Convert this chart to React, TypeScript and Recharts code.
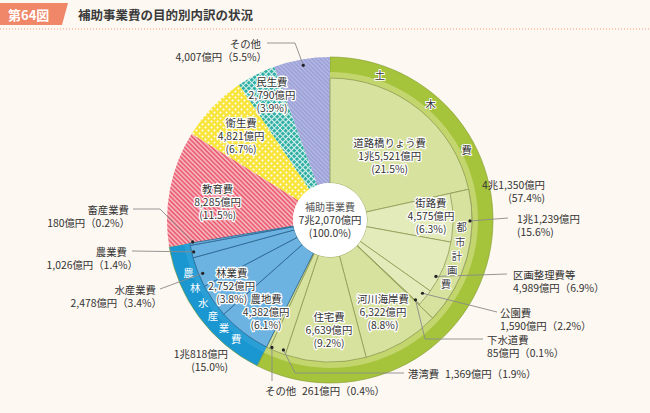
import React from 'react';
import { PieChart, Pie, Cell } from 'recharts';

// ---------- data (億円 / %) ----------
const categories = ['土木費', '農林水産業費', '教育費', '衛生費', '民生費', 'その他'];
const categoryValues = [41350, 10818, 8285, 4821, 2790, 4007];
const categoryPercents = [57.4, 15.0, 11.5, 6.7, 3.9, 5.5];

const civilItems = ['道路橋りょう費', '街路費', '区画整理費等', '公園費', '下水道費', '河川海岸費', '住宅費', '港湾費', 'その他'];
const civilValues = [15521, 4575, 4989, 1590, 85, 6322, 6639, 1369, 261];
const civilPercents = [21.5, 6.3, 6.9, 2.2, 0.1, 8.8, 9.2, 1.9, 0.4];

const cityPlanningName = '都市計画費';
const cityPlanningItems = ['街路費', '区画整理費等', '公園費', '下水道費'];
const cityPlanningValue = 11239;
const cityPlanningPercent = 15.6;

const agriItems = ['農地費', '林業費', '水産業費', '農業費', '畜産業費'];
const agriValues = [4382, 2752, 2478, 1026, 180];
const agriPercents = [6.1, 3.8, 3.4, 1.4, 0.2];

const totalName = '補助事業費';
const totalValue = 72070;
const totalPercent = 100.0;

// ---------- built tables ----------
type Entry = { id: string; name: string; value: number; pct: number; group: string; blank?: boolean };

const topData: Entry[] = categories.map((n, i) => ({ id: 'top:' + n, name: n, value: categoryValues[i], pct: categoryPercents[i], group: 'top' }));
const leafData: Entry[] = [
  ...civilItems.map((n, i) => ({ id: 'civil:' + n, name: n, value: civilValues[i], pct: civilPercents[i], group: cityPlanningItems.includes(n) ? 'city' : 'civil' })),
  ...agriItems.map((n, i) => ({ id: 'agri:' + n, name: n, value: agriValues[i], pct: agriPercents[i], group: 'agri' })),
  ...categories.slice(2).map((n, i) => ({ id: 'other:' + n, name: n, value: categoryValues[i + 2], pct: categoryPercents[i + 2], group: 'other', blank: true })),
];
const sumAll = categoryValues.reduce((a, b) => a + b, 0);
const cityData: Entry[] = [
  { id: 'pre', name: '', value: civilValues[0], pct: 0, group: 'blank', blank: true },
  { id: 'city:' + cityPlanningName, name: cityPlanningName, value: cityPlanningValue, pct: cityPlanningPercent, group: 'city' },
  { id: 'post', name: '', value: sumAll - civilValues[0] - cityPlanningValue, pct: 0, group: 'blank', blank: true },
];
const centerData: Entry[] = [{ id: 'center', name: totalName, value: totalValue, pct: totalPercent, group: 'center' }];

// ---------- styles ----------
const FONT = '"Noto Sans CJK JP", "Noto Sans", sans-serif';
const CX = 330;
const CY = 220;
const RAD = Math.PI / 180;
const TEXT = '#333333';
const LEADER = '#8a8a8a';
const FS = 10.4;

const topFill: Record<string, string> = {
  '土木費': '#a6c33c',
  '農林水産業費': '#1a97d1',
  '教育費': 'url(#patEdu)',
  '衛生費': 'url(#patHealth)',
  '民生費': 'url(#patWelfare)',
  'その他': 'url(#patOther)',
};
const bandFill: Record<string, string> = { '土木費': '#c3d56d', '農林水産業費': '#2a9fd6' };
const leafFill = (e: Entry) => {
  if (e.blank) return 'none';
  if (e.group === 'agri') return '#6cb3e1';
  if (e.group === 'city') return '#e3ebbb';
  return '#d7e29e';
};
const leafStroke = (e: Entry) => (e.blank ? 'none' : e.group === 'agri' ? '#2f6590' : '#8f9c57');

// ---------- label layout ----------
type Part = 'name' | 'value' | 'pct' | 'valuePct';
interface Line { x: number; y: number; anchor?: 'start' | 'middle' | 'end'; part: Part }
interface Lay {
  inside?: { r: number; da: number; dy?: number };
  dot?: { r: number; da: number };
  path?: [number, number][];
  lines?: Line[];
  arc?: { r: number; start: number; step: number; color: string; halo?: boolean };
}

const LAYOUT: Record<string, Lay> = {
  'civil:道路橋りょう費': { inside: { r: 88, da: 3.9 } },
  'civil:街路費': { inside: { r: 101, da: -1.3 } },
  'civil:区画整理費等': { dot: { r: 120, da: 5.2 }, path: [[507, 274]], lines: [{ x: 513, y: 274, part: 'name' }, { x: 513, y: 287, part: 'valuePct' }] },
  'civil:公園費': { dot: { r: 118, da: -0.9 }, path: [[497, 312]], lines: [{ x: 500, y: 312, part: 'name' }, { x: 500, y: 325, part: 'valuePct' }] },
  'civil:下水道費': { dot: { r: 117, da: -0.4 }, path: [[425, 339], [483, 339]], lines: [{ x: 487, y: 339, part: 'name' }, { x: 487, y: 352, part: 'valuePct' }] },
  'civil:河川海岸費': { inside: { r: 106, da: 0.6 } },
  'civil:住宅費': { inside: { r: 110, da: -1.3 } },
  'civil:港湾費': { dot: { r: 138, da: -2.1 }, path: [[295, 373], [404, 373]], lines: [{ x: 408, y: 373, part: 'name' }, { x: 445, y: 373, part: 'valuePct' }] },
  'civil:その他': { dot: { r: 140, da: -1.4 }, path: [[272, 381]], lines: [{ x: 265, y: 390, part: 'name' }, { x: 302, y: 390, part: 'valuePct' }] },
  'agri:農地費': { inside: { r: 112, da: -2.7 } },
  'agri:林業費': { inside: { r: 118, da: 1.1 } },
  'agri:水産業費': { dot: { r: 138, da: -1.1 }, path: [[160, 289]], lines: [{ x: 156, y: 289, anchor: 'end', part: 'name' }, { x: 162, y: 302, anchor: 'end', part: 'valuePct' }] },
  'agri:農業費': { dot: { r: 140, da: -0.3 }, path: [[132, 251]], lines: [{ x: 127, y: 251, anchor: 'end', part: 'name' }, { x: 138, y: 264, anchor: 'end', part: 'valuePct' }] },
  'agri:畜産業費': { dot: { r: 139, da: 0.8 }, path: [[160, 209], [133, 209]], lines: [{ x: 129, y: 209, anchor: 'end', part: 'name' }, { x: 130, y: 222, anchor: 'end', part: 'valuePct' }] },
  'top:土木費': { arc: { r: 154, start: -84.3, step: 21.8, color: '#333', halo: true }, lines: [{ x: 545, y: 184, anchor: 'end', part: 'value' }, { x: 545, y: 197, anchor: 'end', part: 'pct' }] },
  'top:農林水産業費': { arc: { r: 151, start: 16.0, step: -6.24, color: '#ffffff' }, lines: [{ x: 228, y: 353, anchor: 'end', part: 'value' }, { x: 228, y: 366, anchor: 'end', part: 'pct' }] },
  'top:教育費': { inside: { r: 114, da: -1.7 } },
  'top:衛生費': { inside: { r: 123, da: -0.3 } },
  'top:民生費': { inside: { r: 138, da: 2.1 } },
  'top:その他': { dot: { r: 157, da: 0.2 }, path: [[295, 43], [267, 43]], lines: [{ x: 261, y: 43, anchor: 'end', part: 'name' }, { x: 267, y: 56, anchor: 'end', part: 'valuePct' }] },
  'city:都市計画費': { arc: { r: 132, start: -12.6, step: 6.4, color: '#444', halo: true }, dot: { r: 140, da: -15.2 }, path: [[508, 218]], lines: [{ x: 517, y: 218, part: 'value' }, { x: 517, y: 231, part: 'pct' }] },
  'center': { inside: { r: 0, da: 0, dy: -1 } },
};

const fmtOku = (v: number) => {
  const cho = Math.floor(v / 10000);
  const rest = v % 10000;
  const restStr = rest.toLocaleString('en-US');
  return (cho ? `${cho}兆${restStr}` : restStr) + '億円';
};

const polar = (cx: number, cy: number, r: number, angle: number): [number, number] => [
  cx + r * Math.cos(-angle * RAD),
  cy + r * Math.sin(-angle * RAD),
];

const haloProps = { stroke: '#ffffff', strokeWidth: 2.6, strokeLinejoin: 'round' as const, paintOrder: 'stroke' as const };

function renderLabel(props: any) {
  const d: Entry = props.payload && props.payload.id ? props.payload : props;
  const lay = d && LAYOUT[d.id];
  if (!lay) return <g />;
  const cx = typeof props.cx === 'number' ? props.cx : CX;
  const cy = typeof props.cy === 'number' ? props.cy : CY;
  const mid = props.midAngle as number;
  const parts: Record<Part, string> = {
    name: d.name,
    value: fmtOku(d.value),
    pct: `(${d.pct.toFixed(1)}%)`,
    valuePct: `${fmtOku(d.value)}（${d.pct.toFixed(1)}%）`,
  };
  const els: React.ReactNode[] = [];
  if (lay.inside) {
    const [x, y0] = polar(cx, cy, lay.inside.r, mid - lay.inside.da);
    const y = y0 + (lay.inside.dy || 0);
    const seq: Part[] = ['name', 'value', 'pct'];
    seq.forEach((p, i) => {
      const isCenterName = d.id === 'center' && p === 'name';
      els.push(
        <text key={'in' + i} x={x} y={y + (i - 1) * 13} textAnchor="middle" dominantBaseline="central"
          fontFamily={FONT} fontSize={isCenterName ? 10 : FS} fill={isCenterName ? '#555' : TEXT}
          {...(d.id === 'center' ? {} : haloProps)}>
          {parts[p]}
        </text>
      );
    });
  }
  if (lay.arc) {
    const chars = Array.from(d.name);
    chars.forEach((ch, i) => {
      const [x, y] = polar(cx, cy, lay.arc!.r, mid - (lay.arc!.start + i * lay.arc!.step));
      els.push(
        <text key={'arc' + i} x={x} y={y} textAnchor="middle" dominantBaseline="central" fontFamily={FONT}
          fontSize={FS} fill={lay.arc!.color} {...(lay.arc!.halo ? { ...haloProps, strokeWidth: 2 } : {})}>
          {ch}
        </text>
      );
    });
  }
  if (lay.dot) {
    const [x, y] = polar(cx, cy, lay.dot.r, mid - lay.dot.da);
    const pts = [[x, y], ...(lay.path || [])].map((p) => p.join(',')).join(' ');
    els.push(<polyline key="ll" points={pts} fill="none" stroke={LEADER} strokeWidth={0.9} />);
    els.push(<circle key="dot" cx={x} cy={y} r={1.6} fill="#222" />);
  }
  if (lay.lines) {
    lay.lines.forEach((l, i) => {
      els.push(
        <text key={'ln' + i} x={l.x} y={l.y} textAnchor={l.anchor || 'start'} dominantBaseline="central"
          fontFamily={FONT} fontSize={FS} fill={TEXT}>
          {parts[l.part]}
        </text>
      );
    });
  }
  return <g>{els}</g>;
}

const pieCommon = {
  dataKey: 'value',
  cx: CX,
  cy: CY,
  startAngle: 90,
  endAngle: -270,
  isAnimationActive: false,
  labelLine: false,
};

function Header() {
  return (
    <svg width={650} height={34} style={{ position: 'absolute', left: 0, top: 0 }}>
      <polygon points="0,3 68,3 62,25 0,25" fill="#ef8768" />
      <text x={8} y={14.5} dominantBaseline="central" fontFamily={FONT} fontSize={13} fontWeight={700} fill="#ffffff">
        第64図
      </text>
      <text x={78} y={14.5} dominantBaseline="central" fontFamily={FONT} fontSize={12.5} fontWeight={700} fill="#3a3a3a">
        補助事業費の目的別内訳の状況
      </text>
      <line x1={0} y1={29} x2={650} y2={29} stroke="#ef9a80" strokeWidth={1} strokeDasharray="1 2" />
    </svg>
  );
}

function Patterns() {
  return (
    <svg width={0} height={0} style={{ position: 'absolute' }}>
      <defs>
        <pattern id="patEdu" width={3.2} height={3.2} patternUnits="userSpaceOnUse" patternTransform="rotate(-45)">
          <rect width={3.2} height={3.2} fill="#f7b3bc" />
          <rect width={1.5} height={3.2} fill="#ea5b70" />
        </pattern>
        <pattern id="patHealth" width={6} height={6} patternUnits="userSpaceOnUse">
          <rect width={6} height={6} fill="#f8e43a" />
          <circle cx={1.5} cy={1.5} r={1} fill="#ffffff" />
          <circle cx={4.5} cy={4.5} r={1} fill="#ffffff" />
        </pattern>
        <pattern id="patWelfare" width={4} height={4} patternUnits="userSpaceOnUse" patternTransform="rotate(45)">
          <rect width={4} height={4} fill="#30b0a4" />
          <rect width={1} height={4} fill="#d9f1ee" />
          <rect width={4} height={1} fill="#d9f1ee" />
        </pattern>
        <pattern id="patOther" width={3} height={3} patternUnits="userSpaceOnUse" patternTransform="rotate(-45)">
          <rect width={3} height={3} fill="#9ea3d8" />
          <rect width={1} height={3} fill="#b9bce6" />
        </pattern>
      </defs>
    </svg>
  );
}

export default function App() {
  return (
    <div style={{ position: 'absolute', left: 0, top: 0, width: 650, height: 413, background: '#fdf8f2', overflow: 'hidden' }}>
      <Patterns />
      <div style={{ position: 'absolute', left: 0, top: 0 }}>
        <PieChart width={650} height={413} margin={{ top: 0, right: 0, bottom: 0, left: 0 }}>
          {/* top-level categories incl. outer rings */}
          <Pie {...pieCommon} data={topData} innerRadius={37} outerRadius={163} stroke="none">
            {topData.map((e) => (
              <Cell key={e.id} fill={topFill[e.name]} stroke={e.name === '土木費' || e.name === '農林水産業費' ? '#7f9a2c' : 'none'} strokeWidth={0.6} />
            ))}
          </Pie>
          {/* lighter inner band of rings */}
          <Pie {...pieCommon} data={topData} innerRadius={142} outerRadius={148} stroke="none">
            {topData.map((e) => (
              <Cell key={e.id} fill={bandFill[e.name] || 'none'} stroke="none" />
            ))}
          </Pie>
          {/* detailed items */}
          <Pie {...pieCommon} data={leafData} innerRadius={37} outerRadius={142}>
            {leafData.map((e) => (
              <Cell key={e.id} fill={leafFill(e)} stroke={leafStroke(e)} strokeWidth={0.8} />
            ))}
          </Pie>
          {/* city planning middle ring */}
          <Pie {...pieCommon} data={cityData} innerRadius={123} outerRadius={142}>
            {cityData.map((e) => (
              <Cell key={e.id} fill={e.blank ? 'none' : '#d7e29e'} stroke={e.blank ? 'none' : '#8f9c57'} strokeWidth={0.8} />
            ))}
          </Pie>
          {/* center */}
          <Pie {...pieCommon} data={centerData} innerRadius={0} outerRadius={37} stroke="none" label={renderLabel}>
            {centerData.map((e) => (
              <Cell key={e.id} fill="#ffffff" stroke="none" />
            ))}
          </Pie>
          {/* label layers */}
          <Pie {...pieCommon} data={topData} innerRadius={37} outerRadius={163} fill="none" stroke="none" label={renderLabel}>
            {topData.map((e) => (
              <Cell key={e.id} fill="none" stroke="none" />
            ))}
          </Pie>
          <Pie {...pieCommon} data={leafData} innerRadius={37} outerRadius={142} fill="none" stroke="none" label={renderLabel}>
            {leafData.map((e) => (
              <Cell key={e.id} fill="none" stroke="none" />
            ))}
          </Pie>
          <Pie {...pieCommon} data={cityData} innerRadius={123} outerRadius={142} fill="none" stroke="none" label={renderLabel}>
            {cityData.map((e) => (
              <Cell key={e.id} fill="none" stroke="none" />
            ))}
          </Pie>
        </PieChart>
      </div>
      <Header />
    </div>
  );
}
